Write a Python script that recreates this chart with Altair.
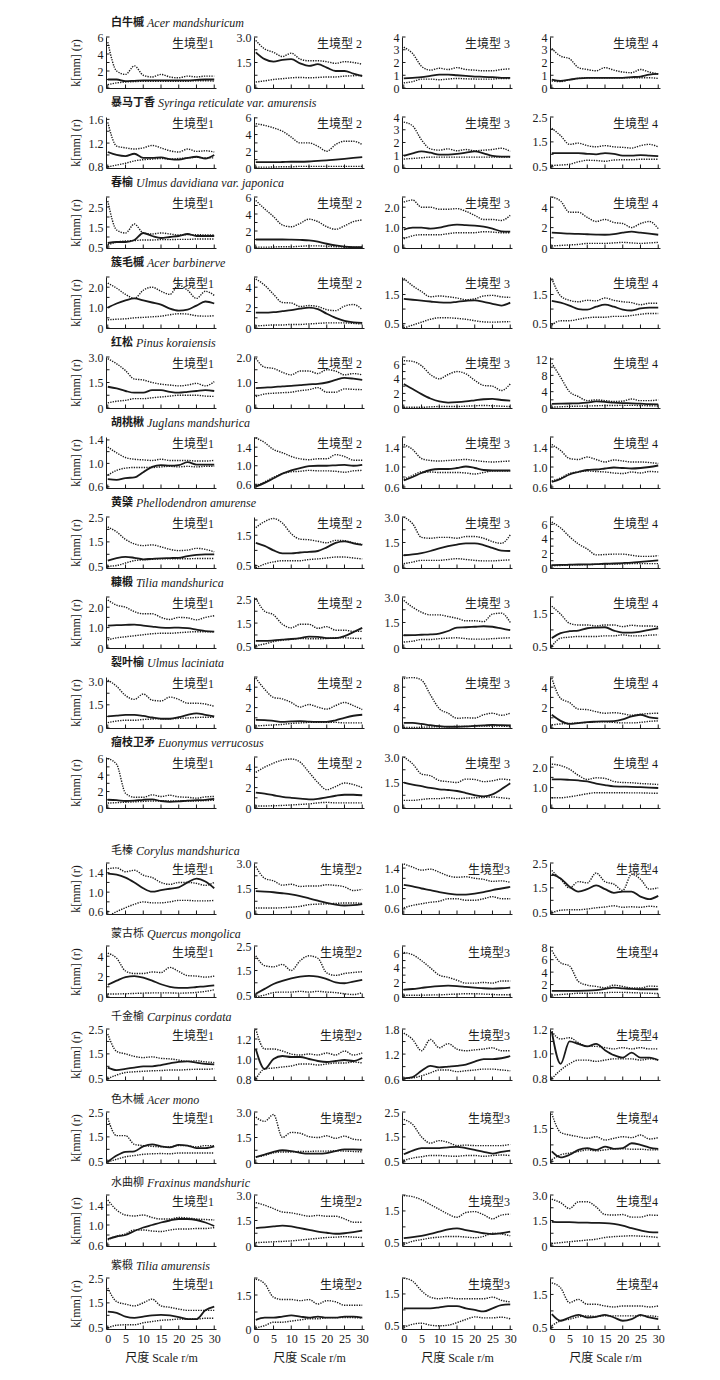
import altair as alt
import pandas as pd

X = [0, 2.5, 5, 7.5, 10, 12.5, 15, 17.5, 20, 22.5, 25, 27.5, 30]
X_TICKS = [0, 5, 10, 15, 20, 25, 30]

CN = ["白牛槭", "暴马丁香", "春榆", "簇毛槭", "红松", "胡桃楸", "黄檗", "糠椴",
      "裂叶榆", "瘤枝卫矛", "毛榛", "蒙古栎", "千金榆", "色木槭", "水曲柳", "紫椴"]
LATIN = ["Acer mandshuricum", "Syringa reticulate var. amurensis",
         "Ulmus davidiana var. japonica", "Acer barbinerve", "Pinus koraiensis",
         "Juglans mandshurica", "Phellodendron amurense", "Tilia mandshurica",
         "Ulmus laciniata", "Euonymus verrucosus", "Corylus mandshurica",
         "Quercus mongolica", "Carpinus cordata", "Acer mono",
         "Fraxinus mandshuric", "Tilia amurensis"]
HAB_G1 = ["生境型1", "生境型 2", "生境型 3", "生境型 4"]
HAB_G2 = ["生境型1", "生境型2", "生境型3", "生境型4"]

# ---- row 1 白牛槭
YDOM_01 = [[0, 6], [0, 3], [0, 4], [0, 4]]
YLAB_01 = [["0", "2", "4", "6"], ["0", "1.5", "3.0"], ["0", "1", "2", "3", "4"], ["0", "1", "2", "3", "4"]]
UP_01 = [[5.4, 2.0, 1.6, 2.6, 1.5, 1.3, 1.6, 1.3, 1.2, 1.4, 1.3, 1.4, 1.4],
         [2.8, 2.3, 2.1, 1.85, 2.05, 1.7, 1.6, 1.6, 1.55, 1.45, 1.55, 1.5, 1.4],
         [3.2, 2.7, 1.7, 1.4, 1.55, 1.45, 1.6, 1.45, 1.4, 1.35, 1.35, 1.45, 1.5],
         [3.1, 2.5, 2.3, 1.6, 1.45, 1.35, 1.6, 1.4, 1.25, 1.2, 1.45, 1.25, 1.1]]
OBS_01 = [[1.0, 1.0, 0.8, 0.85, 0.9, 0.9, 0.9, 0.9, 0.9, 0.9, 0.95, 1.0, 1.0],
          [2.1, 1.7, 1.55, 1.65, 1.7, 1.45, 1.3, 1.4, 1.2, 1.0, 1.0, 0.85, 0.7],
          [0.75, 0.8, 0.85, 0.95, 1.05, 1.05, 1.0, 0.95, 0.9, 0.88, 0.85, 0.8, 0.8],
          [0.65, 0.55, 0.65, 0.75, 0.8, 0.8, 0.8, 0.8, 0.8, 0.85, 0.9, 1.05, 1.1]]
LOW_01 = [[0.4, 0.6, 0.7, 0.75, 0.8, 0.8, 0.8, 0.8, 0.8, 0.8, 0.85, 0.85, 0.8],
          [0.35, 0.42, 0.5, 0.55, 0.6, 0.62, 0.6, 0.62, 0.65, 0.65, 0.7, 0.72, 0.75],
          [0.4, 0.5, 0.7, 0.7, 0.65, 0.7, 0.75, 0.72, 0.7, 0.7, 0.7, 0.75, 0.75],
          [0.55, 0.5, 0.65, 0.75, 0.8, 0.8, 0.8, 0.8, 0.8, 0.8, 0.8, 0.8, 0.75]]

# ---- row 2 暴马丁香
YDOM_02 = [[0.78, 1.64], [0, 6.1], [0, 4], [0.45, 2.5]]
YLAB_02 = [["0.8", "1.2", "1.6"], ["0", "2", "4", "6"], ["0", "1", "2", "3", "4"], ["0.5", "1.5", "2.5"]]
UP_02 = [[1.55, 1.15, 1.12, 1.1, 1.12, 1.16, 1.12, 1.07, 1.05, 1.1, 1.06, 1.07, 1.05],
         [5.3, 5.1, 4.8, 4.4, 3.7, 3.0, 3.0, 2.6, 2.0, 2.8, 3.2, 3.2, 2.8],
         [3.6, 3.3, 2.2, 1.5, 1.4, 1.5, 1.35, 1.45, 1.35, 1.4, 1.45, 1.55, 1.3],
         [2.05, 1.75, 1.4, 1.45, 1.35, 1.3, 1.35, 1.3, 1.28, 1.25, 1.35, 1.4, 1.3]]
OBS_02 = [[1.05, 1.0, 0.98, 1.02, 0.95, 0.95, 0.96, 0.93, 0.92, 0.95, 0.97, 0.94, 1.0],
          [0.7, 0.7, 0.7, 0.72, 0.75, 0.75, 0.78, 0.85, 0.9, 1.0, 1.1, 1.2, 1.3],
          [0.95, 1.15, 1.3, 1.2, 1.05, 1.05, 1.1, 1.2, 1.3, 1.15, 0.95, 0.9, 0.9],
          [1.05, 1.05, 1.05, 1.05, 1.02, 1.0, 1.05, 1.02, 0.95, 0.95, 0.97, 0.95, 0.93]]
LOW_02 = [[0.8, 0.83, 0.86, 0.9, 0.92, 0.93, 0.94, 0.93, 0.94, 0.95, 0.96, 0.95, 0.95],
          [0.1, 0.1, 0.12, 0.15, 0.15, 0.2, 0.2, 0.2, 0.2, 0.2, 0.2, 0.2, 0.2],
          [0.7, 0.75, 0.8, 0.85, 0.85, 0.85, 0.85, 0.85, 0.85, 0.85, 0.85, 0.85, 0.85],
          [0.55, 0.57, 0.6, 0.7, 0.76, 0.75, 0.72, 0.77, 0.78, 0.78, 0.8, 0.8, 0.8]]

# ---- row 3 春榆
YDOM_03 = [[0.45, 3.0], [0, 6], [0, 2.5], [0, 5]]
YLAB_03 = [["0.5", "1.5", "2.5"], ["0", "2", "4", "6"], ["0", "1.0", "2.0"], ["0", "2", "4"]]
UP_03 = [[2.8, 1.35, 1.2, 1.65, 1.2, 1.15, 1.2, 1.15, 1.1, 1.12, 1.12, 1.1, 1.1],
         [5.6, 4.6, 3.7, 2.7, 2.5, 2.9, 3.4, 3.1, 2.5, 2.2, 2.6, 3.1, 3.3],
         [2.25, 2.35, 2.0, 2.0, 1.9, 1.9, 1.93, 1.8, 1.6, 1.4, 1.4, 1.35, 1.6],
         [5.0, 4.6, 3.5, 3.5, 3.0, 2.6, 2.8, 2.5, 2.4, 2.0, 2.4, 2.6, 1.9]]
OBS_03 = [[0.7, 0.75, 0.75, 0.85, 1.2, 1.05, 0.95, 1.0, 1.05, 1.15, 1.05, 1.05, 1.05],
          [1.0, 1.0, 1.0, 1.0, 0.98, 0.95, 0.9, 0.75, 0.5, 0.3, 0.15, 0.1, 0.1],
          [0.9, 1.0, 1.0, 0.95, 1.0, 1.1, 1.15, 1.12, 1.1, 1.05, 0.95, 0.82, 0.8],
          [1.5, 1.45, 1.4, 1.38, 1.35, 1.32, 1.3, 1.35, 1.5, 1.6, 1.5, 1.4, 1.3]]
LOW_03 = [[0.6, 0.75, 0.8, 0.82, 0.85, 0.85, 0.87, 0.87, 0.88, 0.88, 0.9, 0.9, 0.9],
          [0.1, 0.1, 0.12, 0.15, 0.15, 0.2, 0.25, 0.25, 0.2, 0.15, 0.12, 0.1, 0.1],
          [0.45, 0.6, 0.65, 0.65, 0.65, 0.7, 0.75, 0.75, 0.75, 0.8, 0.78, 0.75, 0.75],
          [0.2, 0.25, 0.3, 0.35, 0.45, 0.45, 0.45, 0.5, 0.55, 0.5, 0.45, 0.5, 0.55]]

# ---- row 4 簇毛槭
YDOM_04 = [[0, 2.5], [0, 5], [0.35, 2.1], [0.35, 2.1]]
YLAB_04 = [["0", "1.0", "2.0"], ["0", "2", "4"], ["0.5", "1.5"], ["0.5", "1.5"]]
UP_04 = [[2.2, 1.95, 1.65, 1.45, 1.85, 2.0, 1.8, 1.65, 2.1, 1.85, 1.45, 1.8, 1.6],
         [4.8, 4.2, 3.3, 2.5, 2.45, 2.1, 2.2, 2.1, 1.8, 1.7, 2.15, 2.3, 1.8],
         [2.05, 1.8, 1.6, 1.42, 1.45, 1.42, 1.38, 1.32, 1.35, 1.45, 1.47, 1.42, 1.4],
         [2.05, 1.45, 1.3, 1.25, 1.3, 1.28, 1.38, 1.3, 1.25, 1.22, 1.15, 1.2, 1.2]]
OBS_04 = [[1.0, 1.2, 1.35, 1.45, 1.35, 1.25, 1.15, 0.95, 0.85, 0.9, 1.1, 1.3, 1.2],
          [1.5, 1.5, 1.55, 1.65, 1.75, 1.9, 2.0, 1.85, 1.4, 1.0, 0.7, 0.55, 0.5],
          [1.35, 1.32, 1.29, 1.26, 1.23, 1.22, 1.25, 1.28, 1.3, 1.25, 1.18, 1.12, 1.22],
          [1.28, 1.22, 1.12, 1.0, 0.98, 1.08, 1.15, 1.08, 0.98, 0.95, 1.02, 1.05, 1.05]]
LOW_04 = [[0.4, 0.43, 0.45, 0.5, 0.52, 0.55, 0.58, 0.65, 0.7, 0.68, 0.6, 0.58, 0.6],
          [0.2, 0.25, 0.3, 0.3, 0.35, 0.35, 0.4, 0.45, 0.5, 0.5, 0.5, 0.45, 0.4],
          [0.35, 0.45, 0.55, 0.65, 0.7, 0.7, 0.68, 0.65, 0.6, 0.56, 0.55, 0.56, 0.57],
          [0.45, 0.6, 0.6, 0.65, 0.7, 0.72, 0.72, 0.75, 0.75, 0.78, 0.82, 0.85, 0.85]]

# ---- row 5 红松
YDOM_05 = [[0, 3.0], [0, 2.0], [0, 7], [0, 12.5]]
YLAB_05 = [["0", "1.5", "3.0"], ["0", "1.0", "2.0"], ["0", "2", "4", "6"], ["0", "4", "8", "12"]]
UP_05 = [[2.9, 2.6, 2.2, 1.7, 1.65, 1.5, 1.4, 1.35, 1.3, 1.35, 1.45, 1.3, 1.55],
         [1.95, 1.6, 1.55, 1.4, 1.3, 1.45, 1.45, 1.35, 1.5, 1.45, 1.3, 1.35, 1.3],
         [6.5, 6.4, 5.8, 4.6, 4.0, 4.6, 5.0, 4.7, 3.8, 3.1, 3.0, 2.4, 3.3],
         [11.0, 7.5, 4.0, 2.8, 1.8, 2.0, 1.8, 1.6, 1.7, 2.2, 1.8, 1.8, 2.0]]
OBS_05 = [[1.25, 1.15, 1.0, 0.9, 0.9, 1.05, 1.05, 0.95, 0.9, 0.95, 1.0, 1.05, 1.0],
          [0.78, 0.8, 0.82, 0.85, 0.87, 0.9, 0.93, 0.95, 1.0, 1.1, 1.18, 1.15, 1.1],
          [3.3, 2.6, 1.9, 1.3, 0.9, 0.75, 0.8, 0.9, 1.05, 1.2, 1.25, 1.1, 1.0],
          [1.0, 1.05, 1.1, 1.15, 1.3, 1.6, 1.5, 1.3, 1.2, 1.15, 1.05, 0.95, 0.9]]
LOW_05 = [[0.3, 0.4, 0.45, 0.55, 0.55, 0.6, 0.65, 0.7, 0.75, 0.75, 0.75, 0.7, 0.68],
          [0.45, 0.55, 0.58, 0.6, 0.62, 0.68, 0.72, 0.8, 0.62, 0.62, 0.75, 0.73, 0.72],
          [0.1, 0.1, 0.1, 0.15, 0.2, 0.2, 0.2, 0.25, 0.3, 0.35, 0.3, 0.25, 0.2],
          [0.2, 0.3, 0.4, 0.45, 0.5, 0.55, 0.6, 0.6, 0.65, 0.65, 0.6, 0.55, 0.5]]

# ---- row 6 胡桃楸
YDOM_06 = [[0.58, 1.45], [0.52, 1.62], [0.58, 1.6], [0.58, 1.6]]
YLAB_06 = [["0.6", "1.0", "1.4"], ["0.6", "1.0", "1.4"], ["0.6", "1.0", "1.4"], ["0.6", "1.0", "1.4"]]
UP_06 = [[1.28, 1.18, 1.1, 1.07, 1.06, 1.05, 1.07, 1.05, 1.05, 1.05, 1.04, 1.04, 1.05],
         [1.6, 1.5, 1.35, 1.28, 1.2, 1.15, 1.13, 1.15, 1.15, 1.24, 1.2, 1.12, 1.12],
         [1.45, 1.35, 1.17, 1.13, 1.12, 1.13, 1.14, 1.15, 1.13, 1.11, 1.1, 1.11, 1.12],
         [1.45, 1.33, 1.17, 1.15, 1.2, 1.15, 1.1, 1.14, 1.12, 1.1, 1.1, 1.09, 1.07]]
OBS_06 = [[0.73, 0.72, 0.75, 0.76, 0.85, 0.94, 0.97, 0.96, 0.97, 1.02, 0.98, 0.98, 0.98],
          [0.55, 0.63, 0.73, 0.83, 0.9, 0.95, 0.99, 1.0, 1.0, 1.01, 1.02, 1.0, 1.02],
          [0.73, 0.8, 0.88, 0.94, 0.96, 0.96, 0.98, 1.01, 0.98, 0.94, 0.93, 0.93, 0.93],
          [0.7, 0.76, 0.85, 0.9, 0.94, 0.95, 0.97, 0.99, 0.98, 0.97, 0.98, 1.0, 1.03]]
LOW_06 = [[0.8, 0.88, 0.92, 0.93, 0.93, 0.93, 0.94, 0.95, 0.94, 0.95, 0.94, 0.95, 0.95],
          [0.57, 0.65, 0.75, 0.83, 0.87, 0.88, 0.9, 0.89, 0.89, 0.88, 0.86, 0.89, 0.9],
          [0.75, 0.83, 0.9, 0.9, 0.89, 0.89, 0.89, 0.88, 0.86, 0.89, 0.92, 0.92, 0.92],
          [0.72, 0.78, 0.87, 0.9, 0.92, 0.91, 0.9, 0.88, 0.87, 0.9, 0.88, 0.91, 0.9]]

# ---- row 7 黄檗
YDOM_07 = [[0.45, 2.5], [0.42, 2.1], [0, 3.0], [0, 7]]
YLAB_07 = [["0.5", "1.5", "2.5"], ["0.5", "1.5"], ["0", "1.5", "3.0"], ["0", "2", "4", "6"]]
UP_07 = [[2.1, 1.9, 1.6, 1.42, 1.35, 1.38, 1.3, 1.2, 1.15, 1.17, 1.24, 1.2, 1.1],
         [1.75, 1.95, 2.05, 1.9, 1.55, 1.37, 1.35, 1.3, 1.25, 1.33, 1.32, 1.25, 1.2],
         [3.0, 2.6, 1.8, 1.75, 1.8, 1.8, 1.75, 1.85, 1.85, 1.75, 1.55, 1.45, 1.95],
         [6.3, 5.5, 4.3, 3.3, 2.6, 1.8, 1.85, 1.9, 1.9, 1.75, 1.6, 1.6, 1.7]]
OBS_07 = [[0.75, 0.85, 0.9, 0.86, 0.8, 0.82, 0.84, 0.85, 0.86, 0.93, 0.98, 1.0, 1.0],
          [1.25, 1.15, 1.0, 0.9, 0.9, 0.93, 0.95, 0.98, 1.1, 1.25, 1.3, 1.23, 1.18],
          [0.75, 0.8, 0.88, 1.0, 1.15, 1.28, 1.38, 1.45, 1.45, 1.35, 1.18, 1.02, 1.0],
          [0.4, 0.42, 0.45, 0.48, 0.5, 0.52, 0.58, 0.62, 0.68, 0.75, 0.85, 0.95, 1.05]]
LOW_07 = [[0.52, 0.55, 0.65, 0.75, 0.78, 0.8, 0.82, 0.82, 0.82, 0.82, 0.83, 0.83, 0.83],
          [0.42, 0.55, 0.62, 0.66, 0.66, 0.66, 0.7, 0.72, 0.75, 0.78, 0.78, 0.75, 0.72],
          [0.25, 0.35, 0.45, 0.45, 0.45, 0.5, 0.55, 0.5, 0.45, 0.42, 0.42, 0.45, 0.48],
          [0.3, 0.35, 0.4, 0.45, 0.45, 0.5, 0.5, 0.55, 0.55, 0.6, 0.6, 0.6, 0.6]]

# ---- row 8 糠椴
YDOM_08 = [[0, 2.5], [0.45, 2.6], [0, 3.0], [0.45, 2.0]]
YLAB_08 = [["0", "1.0", "2.0"], ["0.5", "1.5", "2.5"], ["0", "1.5", "3.0"], ["0.5", "1.5"]]
UP_08 = [[2.35, 2.1, 2.0, 1.78, 1.68, 1.68, 1.5, 1.4, 1.5, 1.48, 1.38, 1.5, 1.58],
         [2.55, 2.0, 1.85, 1.45, 1.3, 1.45, 1.45, 1.28, 1.35, 1.2, 1.2, 1.15, 1.15],
         [2.8, 2.4, 2.1, 1.95, 1.95, 1.85, 1.75, 1.6, 1.6, 1.55, 2.0, 2.05, 1.5],
         [1.72, 1.48, 1.2, 1.15, 1.15, 1.12, 1.15, 1.15, 1.1, 1.14, 1.12, 1.12, 1.1]]
OBS_08 = [[1.1, 1.12, 1.13, 1.15, 1.1, 1.05, 1.0, 0.99, 1.0, 0.97, 0.9, 0.83, 0.8],
          [0.75, 0.75, 0.77, 0.8, 0.83, 0.87, 0.93, 0.92, 0.87, 0.87, 0.95, 1.12, 1.3],
          [0.75, 0.76, 0.78, 0.8, 0.85, 1.0, 1.2, 1.22, 1.25, 1.28, 1.25, 1.15, 1.05],
          [0.75, 0.9, 0.96, 0.98, 1.05, 1.07, 1.08, 0.98, 0.92, 0.92, 0.95, 1.0, 1.05]]
LOW_08 = [[0.4, 0.5, 0.55, 0.6, 0.65, 0.7, 0.72, 0.72, 0.75, 0.78, 0.8, 0.8, 0.8],
          [0.55, 0.62, 0.72, 0.78, 0.82, 0.85, 0.84, 0.84, 0.85, 0.88, 0.88, 0.86, 0.85],
          [0.35, 0.4, 0.5, 0.5, 0.55, 0.58, 0.6, 0.55, 0.52, 0.52, 0.55, 0.58, 0.6],
          [0.5, 0.75, 0.78, 0.8, 0.8, 0.8, 0.82, 0.82, 0.85, 0.82, 0.82, 0.84, 0.85]]

# ---- row 9 裂叶榆
YDOM_09 = [[0, 3.3], [0, 5], [0, 10], [0, 5]]
YLAB_09 = [["0", "1.5", "3.0"], ["0", "2", "4"], ["0", "4", "8"], ["0", "2", "4"]]
UP_09 = [[3.1, 2.7, 2.1, 1.85, 2.2, 1.8, 1.75, 2.0, 1.85, 1.6, 1.6, 1.55, 1.4],
         [4.9, 3.8, 3.0, 2.85, 2.5, 2.05, 2.3, 2.05, 1.85, 2.2, 2.5, 2.2, 1.8],
         [9.7, 9.9, 9.4, 6.5, 3.8, 2.9, 1.9, 2.0, 1.95, 2.6, 2.9, 2.5, 2.9],
         [4.9, 2.9, 2.5, 1.85, 1.8, 1.6, 1.45, 1.5, 1.4, 1.25, 1.35, 1.42, 1.45]]
OBS_09 = [[0.75, 0.8, 0.85, 0.85, 0.78, 0.68, 0.6, 0.6, 0.7, 0.85, 0.95, 0.85, 0.75],
          [0.8, 0.78, 0.7, 0.6, 0.65, 0.68, 0.62, 0.6, 0.6, 0.75, 1.0, 1.2, 1.3],
          [1.0, 1.0, 0.8, 0.55, 0.35, 0.25, 0.25, 0.3, 0.4, 0.5, 0.6, 0.55, 0.5],
          [1.3, 0.7, 0.4, 0.48, 0.58, 0.62, 0.65, 0.68, 0.85, 1.15, 1.3, 1.05, 0.95]]
LOW_09 = [[0.35, 0.45, 0.5, 0.5, 0.55, 0.58, 0.6, 0.6, 0.62, 0.65, 0.68, 0.7, 0.7],
          [0.2, 0.25, 0.3, 0.35, 0.45, 0.5, 0.55, 0.55, 0.55, 0.55, 0.5, 0.5, 0.5],
          [0.1, 0.1, 0.15, 0.2, 0.25, 0.25, 0.3, 0.3, 0.35, 0.4, 0.4, 0.35, 0.3],
          [0.3, 0.4, 0.45, 0.5, 0.55, 0.6, 0.6, 0.55, 0.5, 0.5, 0.55, 0.65, 0.7]]

# ---- row 10 瘤枝卫矛
YDOM_10 = [[0, 6.2], [0, 5], [0, 3.0], [0, 2.5]]
YLAB_10 = [["0", "2", "4", "6"], ["0", "2", "4"], ["0", "1.5", "3.0"], ["0", "1.0", "2.0"]]
UP_10 = [[6.0, 5.3, 1.8, 1.3, 1.3, 1.6, 1.4, 1.55, 1.35, 1.3, 1.2, 1.35, 1.4],
         [3.5, 4.0, 4.4, 4.7, 4.8, 4.5, 3.5, 2.5, 1.8, 2.1, 2.45, 2.3, 2.0],
         [3.0, 2.6, 2.0, 1.9, 1.62, 1.55, 1.5, 1.7, 1.68, 1.55, 1.6, 1.7, 1.65],
         [2.15, 2.08, 1.9, 1.6, 1.4, 1.48, 1.45, 1.3, 1.25, 1.24, 1.2, 1.18, 1.15]]
OBS_10 = [[1.0, 0.95, 0.85, 0.9, 1.0, 1.05, 0.85, 0.75, 0.8, 0.9, 0.95, 1.0, 1.1],
          [1.5, 1.4, 1.25, 1.1, 1.0, 0.92, 0.85, 0.9, 1.05, 1.2, 1.3, 1.3, 1.25],
          [1.5, 1.38, 1.28, 1.18, 1.1, 1.06, 1.0, 0.88, 0.75, 0.68, 0.8, 1.1, 1.45],
          [1.4, 1.4, 1.38, 1.35, 1.3, 1.2, 1.12, 1.06, 1.05, 1.04, 1.02, 1.0, 0.98]]
LOW_10 = [[0.6, 0.65, 0.7, 0.75, 0.8, 0.85, 0.85, 0.85, 0.85, 0.85, 0.85, 0.9, 0.95],
          [0.2, 0.2, 0.22, 0.25, 0.3, 0.35, 0.4, 0.5, 0.55, 0.5, 0.5, 0.5, 0.5],
          [0.45, 0.45, 0.5, 0.55, 0.55, 0.6, 0.55, 0.58, 0.6, 0.62, 0.65, 0.6, 0.55],
          [0.5, 0.5, 0.55, 0.62, 0.7, 0.75, 0.75, 0.75, 0.75, 0.74, 0.74, 0.73, 0.72]]

# ---- row 11 毛榛
YDOM_11 = [[0.55, 1.6], [0, 3.0], [0.5, 1.5], [0.45, 2.5]]
YLAB_11 = [["0.6", "1.0", "1.4"], ["0", "1.5", "3.0"], ["0.6", "1.0", "1.4"], ["0.5", "1.5", "2.5"]]
UP_11 = [[1.48, 1.5, 1.42, 1.45, 1.35, 1.3, 1.2, 1.16, 1.2, 1.2, 1.18, 1.14, 1.2],
         [2.8, 2.1, 1.95, 1.7, 1.75, 1.62, 1.65, 1.65, 1.72, 1.68, 1.6, 1.38, 1.45],
         [1.48, 1.42, 1.36, 1.38, 1.32, 1.25, 1.22, 1.23, 1.2, 1.18, 1.14, 1.15, 1.12],
         [2.2, 1.85, 1.5, 1.75, 1.7, 2.1, 1.75, 1.65, 1.4, 2.05, 1.85, 1.45, 1.5]]
OBS_11 = [[1.38, 1.36, 1.3, 1.2, 1.08, 1.01, 1.04, 1.07, 1.1, 1.2, 1.28, 1.22, 1.08],
          [1.35, 1.32, 1.28, 1.22, 1.15, 1.05, 0.92, 0.78, 0.65, 0.55, 0.5, 0.52, 0.58],
          [1.07, 1.04, 1.0, 0.97, 0.93, 0.9, 0.88, 0.88, 0.9, 0.93, 0.97, 1.0, 1.03],
          [2.05, 1.88, 1.55, 1.35, 1.45, 1.6, 1.45, 1.3, 1.35, 1.35, 1.15, 1.05, 1.18]]
LOW_11 = [[0.5, 0.6, 0.68, 0.75, 0.8, 0.78, 0.78, 0.8, 0.83, 0.83, 0.82, 0.82, 0.83],
          [0.35, 0.35, 0.35, 0.37, 0.4, 0.45, 0.55, 0.58, 0.6, 0.62, 0.65, 0.65, 0.62],
          [0.62, 0.67, 0.7, 0.73, 0.75, 0.8, 0.8, 0.77, 0.77, 0.8, 0.84, 0.8, 0.8],
          [0.5, 0.6, 0.62, 0.62, 0.65, 0.7, 0.73, 0.78, 0.72, 0.74, 0.72, 0.76, 0.73]]

# ---- row 12 蒙古栎
YDOM_12 = [[0, 5], [0.42, 2.5], [0, 7], [0, 8.2]]
YLAB_12 = [["0", "2", "4"], ["0.5", "1.5", "2.5"], ["0", "2", "4", "6"], ["0", "2", "4", "6", "8"]]
UP_12 = [[4.3, 3.8, 2.55, 2.3, 2.3, 2.45, 2.4, 2.9, 2.5, 2.1, 2.05, 1.95, 2.05],
         [2.1, 1.7, 1.65, 1.75, 1.5, 1.9, 2.1, 2.0, 1.4, 1.3, 1.38, 1.42, 1.45],
         [6.1, 5.8, 5.0, 4.0, 3.0, 2.7, 2.3, 1.9, 1.9, 2.0, 1.9, 2.2, 2.2],
         [7.5, 5.5, 5.0, 2.5, 1.9, 1.7, 1.5, 1.9, 1.7, 1.45, 1.45, 1.75, 1.7]]
OBS_12 = [[1.2, 1.6, 1.95, 2.05, 1.9, 1.6, 1.25, 1.0, 0.9, 0.9, 0.98, 1.05, 1.15],
          [0.55, 0.75, 0.95, 1.08, 1.18, 1.25, 1.28, 1.25, 1.15, 1.02, 0.98, 1.05, 1.12],
          [1.0, 1.1, 1.25, 1.4, 1.5, 1.55, 1.5, 1.4, 1.3, 1.2, 1.15, 1.2, 1.3],
          [1.0, 1.0, 1.0, 1.0, 1.02, 1.1, 1.3, 1.5, 1.4, 1.3, 1.25, 1.25, 1.25]]
LOW_12 = [[0.3, 0.3, 0.32, 0.35, 0.38, 0.4, 0.4, 0.4, 0.38, 0.4, 0.45, 0.55, 0.7],
          [0.42, 0.5, 0.6, 0.62, 0.62, 0.65, 0.62, 0.65, 0.62, 0.6, 0.55, 0.52, 0.6],
          [0.25, 0.25, 0.25, 0.28, 0.3, 0.35, 0.4, 0.45, 0.45, 0.4, 0.35, 0.3, 0.3],
          [0.3, 0.4, 0.5, 0.6, 0.6, 0.65, 0.7, 0.75, 0.75, 0.7, 0.65, 0.6, 0.55]]

# ---- row 13 千金榆
YDOM_13 = [[0.45, 2.5], [0.79, 1.3], [0.58, 1.8], [0.79, 1.2]]
YLAB_13 = [["0.5", "1.5", "2.5"], ["0.8", "1.0", "1.2"], ["0.6", "1.2", "1.8"], ["0.8", "1.0", "1.2"]]
UP_13 = [[2.3, 1.6, 1.5, 1.4, 1.35, 1.38, 1.32, 1.3, 1.25, 1.2, 1.22, 1.18, 1.15],
         [1.3, 1.1, 1.1, 1.08, 1.05, 1.04, 1.05, 1.04, 1.06, 1.04, 1.08, 1.04, 1.06],
         [1.7, 1.55, 1.28, 1.55, 1.35, 1.45, 1.32, 1.28, 1.3, 1.32, 1.35, 1.28, 1.28],
         [1.18, 1.12, 1.13, 1.09, 1.06, 1.06, 1.05, 1.04, 1.05, 1.04, 1.05, 1.04, 1.04]]
OBS_13 = [[0.95, 0.85, 0.9, 0.95, 1.0, 1.0, 1.05, 1.12, 1.18, 1.2, 1.15, 1.1, 1.08],
          [1.1, 0.9, 1.0, 1.03, 1.02, 1.02, 1.0, 0.98, 0.97, 0.98, 0.99, 0.98, 1.01],
          [0.62, 0.65, 0.8, 0.92, 0.88, 0.9, 0.92, 0.95, 1.02, 1.08, 1.08, 1.1, 1.15],
          [1.18, 0.92, 1.1, 1.08, 1.06, 1.08, 1.03, 0.99, 0.97, 1.01, 0.97, 0.97, 0.95]]
LOW_13 = [[0.5, 0.65, 0.75, 0.78, 0.8, 0.82, 0.83, 0.85, 0.85, 0.87, 0.88, 0.88, 0.9],
          [0.8, 0.9, 0.91, 0.92, 0.93, 0.95, 0.95, 0.94, 0.95, 0.96, 0.96, 0.97, 0.96],
          [0.62, 0.63, 0.68, 0.75, 0.82, 0.82, 0.78, 0.8, 0.82, 0.84, 0.84, 0.82, 0.8],
          [0.8, 0.87, 0.92, 0.95, 0.95, 0.94, 0.95, 0.96, 0.96, 0.96, 0.95, 0.96, 0.95]]

# ---- row 14 色木槭
YDOM_14 = [[0.45, 2.5], [0, 3.0], [0.45, 2.5], [0.45, 2.0]]
YLAB_14 = [["0.5", "1.5", "2.5"], ["0", "1.5", "3.0"], ["0.5", "1.5", "2.5"], ["0.5", "1.5"]]
UP_14 = [[2.25, 1.55, 1.55, 1.2, 1.15, 1.12, 1.1, 1.1, 1.15, 1.15, 1.1, 1.15, 1.15],
         [2.7, 2.45, 2.85, 1.5, 1.8, 1.75, 1.55, 1.5, 1.6, 1.45, 1.58, 1.4, 1.35],
         [2.2, 2.0, 1.5, 1.25, 1.35, 1.28, 1.15, 1.17, 1.15, 1.15, 1.15, 1.15, 1.2],
         [1.95, 1.38, 1.3, 1.25, 1.2, 1.25, 1.15, 1.2, 1.25, 1.22, 1.3, 1.18, 1.22]]
OBS_14 = [[0.5, 0.75, 0.9, 0.92, 1.12, 1.2, 1.12, 1.08, 1.18, 1.15, 1.05, 1.05, 1.12],
          [0.35, 0.5, 0.65, 0.75, 0.7, 0.6, 0.55, 0.55, 0.58, 0.7, 0.8, 0.8, 0.78],
          [0.8, 0.95, 1.05, 1.05, 1.05, 1.08, 1.1, 1.05, 0.98, 0.9, 0.83, 0.9, 0.95],
          [0.8, 0.62, 0.7, 0.85, 0.9, 0.85, 0.95, 0.88, 0.9, 1.05, 1.0, 0.92, 0.88]]
LOW_14 = [[0.5, 0.6, 0.7, 0.75, 0.8, 0.82, 0.83, 0.82, 0.85, 0.85, 0.85, 0.85, 0.85],
          [0.35, 0.45, 0.6, 0.65, 0.65, 0.68, 0.68, 0.7, 0.7, 0.72, 0.7, 0.68, 0.65],
          [0.55, 0.65, 0.7, 0.75, 0.75, 0.73, 0.72, 0.75, 0.75, 0.72, 0.75, 0.77, 0.75],
          [0.55, 0.7, 0.75, 0.8, 0.85, 0.82, 0.85, 0.88, 0.88, 0.87, 0.87, 0.85, 0.85]]

# ---- row 15 水曲柳
YDOM_15 = [[0.58, 1.6], [0, 3.0], [0.4, 2.0], [0, 3.0]]
YLAB_15 = [["0.6", "1.0", "1.4"], ["0", "1.5", "3.0"], ["0.5", "1.5"], ["0", "1.5", "3.0"]]
UP_15 = [[1.5, 1.3, 1.2, 1.18, 1.2, 1.15, 1.12, 1.12, 1.15, 1.14, 1.12, 1.11, 1.1],
         [2.55, 2.4, 2.2, 2.0, 1.95, 1.85, 1.75, 1.8, 1.75, 1.75, 1.6, 1.4, 1.4],
         [1.98, 1.95, 1.85, 1.7, 1.55, 1.4, 1.3, 1.45, 1.48, 1.38, 1.25, 1.37, 1.4],
         [2.75, 2.55, 2.2, 2.6, 2.6, 2.3, 1.85, 1.82, 1.85, 1.7, 1.7, 1.82, 1.8]]
OBS_15 = [[0.72, 0.77, 0.8, 0.88, 0.95, 1.0, 1.05, 1.09, 1.12, 1.12, 1.1, 1.05, 0.98],
          [1.05, 1.1, 1.15, 1.2, 1.15, 1.05, 0.95, 0.85, 0.78, 0.72, 0.75, 0.82, 0.9],
          [0.65, 0.68, 0.72, 0.78, 0.85, 0.92, 0.95, 0.9, 0.85, 0.8, 0.77, 0.8, 0.85],
          [1.42, 1.4, 1.4, 1.38, 1.37, 1.36, 1.35, 1.3, 1.2, 1.05, 0.92, 0.82, 0.8]]
LOW_15 = [[0.7, 0.78, 0.82, 0.9, 0.9, 0.88, 0.87, 0.9, 0.92, 0.92, 0.93, 0.93, 0.95],
          [0.2, 0.22, 0.25, 0.27, 0.3, 0.35, 0.4, 0.45, 0.5, 0.52, 0.55, 0.52, 0.5],
          [0.45, 0.55, 0.6, 0.65, 0.68, 0.7, 0.7, 0.68, 0.66, 0.7, 0.8, 0.78, 0.72],
          [0.15, 0.2, 0.25, 0.3, 0.35, 0.4, 0.5, 0.55, 0.58, 0.6, 0.58, 0.55, 0.5]]

# ---- row 16 紫椴
YDOM_16 = [[0.45, 2.5], [0, 2.25], [0.4, 2.0], [0.45, 2.0]]
YLAB_16 = [["0.5", "1.5", "2.5"], ["0", "1.5"], ["0.5", "1.5"], ["0.5", "1.5"]]
UP_16 = [[2.1, 1.55, 1.45, 1.38, 1.5, 1.65, 1.38, 1.32, 1.25, 1.2, 1.2, 1.2, 1.2],
         [2.2, 2.0, 1.4, 1.3, 1.3, 1.25, 1.3, 1.1, 1.25, 1.2, 1.05, 1.05, 1.05],
         [2.0, 1.9, 1.6, 1.4, 1.35, 1.38, 1.35, 1.35, 1.35, 1.35, 1.4, 1.3, 1.25],
         [1.85, 1.7, 1.25, 1.35, 1.2, 1.2, 1.15, 1.12, 1.15, 1.15, 1.15, 1.12, 1.15]]
OBS_16 = [[1.15, 1.1, 0.95, 0.9, 0.95, 1.0, 1.02, 1.0, 0.93, 0.85, 0.85, 1.2, 1.35],
          [0.4, 0.5, 0.5, 0.55, 0.6, 0.55, 0.5, 0.55, 0.5, 0.5, 0.55, 0.55, 0.5],
          [1.05, 1.05, 1.05, 1.05, 1.08, 1.12, 1.12, 1.05, 1.0, 0.95, 1.05, 1.15, 1.17],
          [0.9, 0.7, 0.8, 0.88, 0.8, 0.82, 0.88, 0.8, 0.7, 0.75, 0.88, 0.8, 0.75]]
LOW_16 = [[0.5, 0.6, 0.62, 0.62, 0.7, 0.75, 0.8, 0.82, 0.85, 0.85, 0.85, 0.88, 0.88],
          [0.05, 0.15, 0.3, 0.3, 0.35, 0.4, 0.45, 0.45, 0.5, 0.5, 0.5, 0.5, 0.48],
          [0.45, 0.55, 0.58, 0.52, 0.5, 0.52, 0.6, 0.7, 0.78, 0.75, 0.75, 0.77, 0.72],
          [0.55, 0.7, 0.75, 0.82, 0.85, 0.83, 0.85, 0.85, 0.85, 0.85, 0.85, 0.85, 0.82]]

ROWS = [
    (YDOM_01, YLAB_01, UP_01, OBS_01, LOW_01), (YDOM_02, YLAB_02, UP_02, OBS_02, LOW_02),
    (YDOM_03, YLAB_03, UP_03, OBS_03, LOW_03), (YDOM_04, YLAB_04, UP_04, OBS_04, LOW_04),
    (YDOM_05, YLAB_05, UP_05, OBS_05, LOW_05), (YDOM_06, YLAB_06, UP_06, OBS_06, LOW_06),
    (YDOM_07, YLAB_07, UP_07, OBS_07, LOW_07), (YDOM_08, YLAB_08, UP_08, OBS_08, LOW_08),
    (YDOM_09, YLAB_09, UP_09, OBS_09, LOW_09), (YDOM_10, YLAB_10, UP_10, OBS_10, LOW_10),
    (YDOM_11, YLAB_11, UP_11, OBS_11, LOW_11), (YDOM_12, YLAB_12, UP_12, OBS_12, LOW_12),
    (YDOM_13, YLAB_13, UP_13, OBS_13, LOW_13), (YDOM_14, YLAB_14, UP_14, OBS_14, LOW_14),
    (YDOM_15, YLAB_15, UP_15, OBS_15, LOW_15), (YDOM_16, YLAB_16, UP_16, OBS_16, LOW_16),
]

# ---- styling
W, H = 110, 51
TICK = 3.5
INK = "#1a1a1a"
SERIF = "Liberation Serif, Noto Sans CJK SC"
CJK = "Noto Sans CJK SC"


def tick_values(labs, lo, hi):
    majors = [float(s) for s in labs]
    if len(majors) > 4:
        return majors
    half = (majors[1] - majors[0]) / 2.0
    v = majors[0]
    while v - half >= lo - 1e-9:
        v -= half
    vals = []
    while v <= hi + 1e-9:
        vals.append(round(v, 6))
        v += half
    return vals


def label_expr(labs):
    expr = ""
    for s in labs:
        expr += f"abs(datum.value - ({float(s)})) < 1e-6 ? '{s}' : "
    return expr + "''"


def panel(r, c):
    ydom, ylab, up, obs, low = ROWS[r]
    lo, hi = ydom[c]
    last = r == len(ROWS) - 1
    group2 = r >= 10
    yvals = tick_values(ylab[c], lo, hi)

    if last:
        xaxis = alt.Axis(values=X_TICKS, ticks=False, labelFlush=False, labelPadding=4,
                         title="尺度 Scale r/m", titlePadding=8)
    else:
        xaxis = alt.Axis(values=X_TICKS, ticks=False, labels=False, title=None)
    xenc = alt.X("x:Q", scale=alt.Scale(domain=[-0.5, 30.5], nice=False, zero=False), axis=xaxis)

    yargs = dict(values=yvals, ticks=False, labelExpr=label_expr(ylab[c]),
                 labelOverlap=False, labelFlush=False, labelPadding=3)
    if c == 0:
        yargs.update(title="k[mm] (r)", titleAngle=270, titleX=-31, titleY=H / 2,
                     titleAlign="center", titleBaseline="middle")
    else:
        yargs.update(title=None)
    yenc = alt.Y("y:Q", scale=alt.Scale(domain=[lo, hi], nice=False, zero=False),
                 axis=alt.Axis(**yargs))

    env_df = pd.DataFrame({"x": X + X, "y": up[c] + low[c],
                           "s": ["upper"] * len(X) + ["lower"] * len(X)})
    obs_df = pd.DataFrame({"x": X, "y": obs[c]})

    env = alt.Chart(env_df).mark_line(
        color=INK, strokeWidth=1.4, strokeDash=[1.3, 1.2], interpolate="monotone", clip=True
    ).encode(x=xenc, y=yenc, detail="s:N")
    obsl = alt.Chart(obs_df).mark_line(
        color=INK, strokeWidth=1.8, interpolate="monotone", clip=True
    ).encode(x=xenc, y=yenc)

    # inward ticks, placed through the scales at the axis tick values
    ytk = alt.Chart(pd.DataFrame({"y": yvals})).mark_rule(color=INK, strokeWidth=1).encode(
        y=yenc, x=alt.value(0), x2=alt.value(TICK))
    xtk = alt.Chart(pd.DataFrame({"x": X_TICKS})).mark_rule(color=INK, strokeWidth=1).encode(
        x=xenc, y=alt.value(H), y2=alt.value(H - TICK))

    hab = (HAB_G2 if group2 else HAB_G1)[c]
    hab_t = alt.Chart(pd.DataFrame({"t": [hab]})).mark_text(
        align="right", baseline="middle", font=SERIF, fontSize=12, color=INK
    ).encode(text="t:N", x=alt.value(W - 2), y=alt.value(7))

    layers = [ytk, xtk, env, obsl, hab_t]
    if c == 0:
        ty = -12 if group2 else -14
        cn_t = alt.Chart(pd.DataFrame({"t": [CN[r]]})).mark_text(
            align="left", baseline="middle", font=CJK, fontSize=11,
            fontWeight="normal" if group2 else "bold", color=INK
        ).encode(text="t:N", x=alt.value(5), y=alt.value(ty))
        la_t = alt.Chart(pd.DataFrame({"t": [LATIN[r]]})).mark_text(
            align="left", baseline="middle", font="Liberation Serif", fontSize=12,
            fontStyle="italic", color=INK
        ).encode(text="t:N", x=alt.value(5 + 11 * len(CN[r]) + 3), y=alt.value(ty))
        layers += [cn_t, la_t]
    return alt.layer(*layers).properties(width=W, height=H)


g1 = alt.concat(*[panel(r, c) for r in range(10) for c in range(4)], columns=4,
                spacing={"row": 29, "column": 38}, bounds="flush")
g2 = alt.concat(*[panel(r, c) for r in range(10, 16) for c in range(4)], columns=4,
                spacing={"row": 32, "column": 38}, bounds="flush")

chart = alt.vconcat(g1, g2, spacing=31).properties(
    padding={"left": 60, "top": 9, "right": 5, "bottom": 5},
    background="white",
).configure_view(strokeWidth=0).configure_axis(
    grid=False, domainColor=INK, domainWidth=1,
    labelFont="Liberation Serif", labelFontSize=12, labelColor=INK,
    titleFont=SERIF, titleFontSize=12, titleFontWeight="normal", titleColor=INK,
)

chart.save("out.html", embed_options={"renderer": "svg", "actions": False})
